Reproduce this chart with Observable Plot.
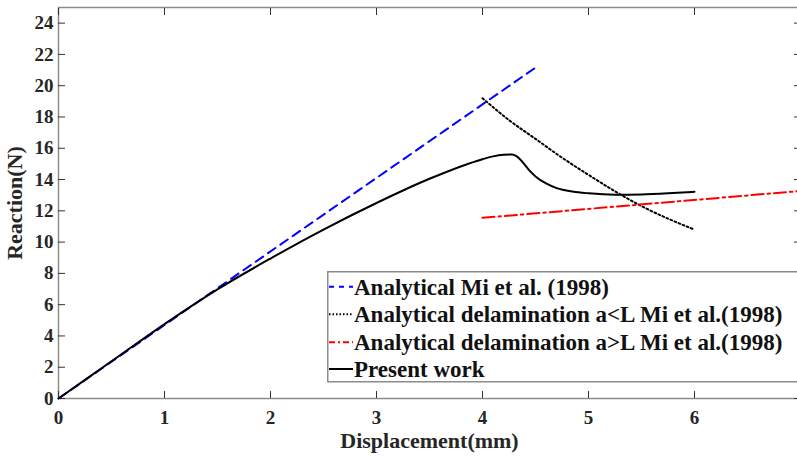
<!DOCTYPE html>
<html><head><meta charset="utf-8">
<script src="https://cdn.jsdelivr.net/npm/d3@7"></script>
<script src="https://cdn.jsdelivr.net/npm/@observablehq/plot@0.6"></script>
<style>
body{margin:0;background:#fff;}
#chart{position:relative;width:797px;height:457px;overflow:hidden;font-family:"Liberation Serif","Times New Roman",serif;}
#legend{position:absolute;left:327px;top:271px;}
</style></head><body><div id="chart"></div>
<script>
// ---- data ----
const xTicks = [0, 1, 2, 3, 4, 5, 6];
const yTicks = [0, 2, 4, 6, 8, 10, 12, 14, 16, 18, 20, 22, 24];

const seriesNames = [
  "Analytical Mi et al. (1998)",
  "Analytical delamination a<L Mi et al.(1998)",
  "Analytical delamination a>L Mi et al.(1998)",
  "Present work"
];

const analyticalX = [0, 4.52];
const analyticalY = [0, 21.25];

const delamLessX = [4.0, 4.25, 4.5, 4.75, 5.0, 5.25, 5.5, 5.75, 6.0];
const delamLessY = [19.2, 17.8, 16.6, 15.4, 14.3, 13.25, 12.3, 11.5, 10.8];

const delamGreaterX = [4.0, 7.0];
const delamGreaterY = [11.55, 13.27];

const presentX = [0, 0.5, 1, 1.5, 2, 2.5, 3, 3.5, 4, 4.1, 4.2, 4.28, 4.33, 4.38, 4.44, 4.5, 4.6, 4.7, 4.85, 5, 5.25, 5.5, 5.75, 6];
const presentY = [0, 2.38, 4.76, 6.98, 8.95, 10.8, 12.5, 14.05, 15.3, 15.48, 15.58, 15.6, 15.45, 15.1, 14.6, 14.2, 13.75, 13.45, 13.23, 13.12, 13.03, 13.05, 13.12, 13.22];

const toRows = (xs, ys) => xs.map((x, i) => ({x, y: ys[i]}));
const analytical = toRows(analyticalX, analyticalY);
const delamLess = toRows(delamLessX, delamLessY);
const delamGreater = toRows(delamGreaterX, delamGreaterY);
const present = toRows(presentX, presentY);

const axisGray = "#8c8c8c";
const tickColor = "#333";
const textColor = "#262626";

const plot = Plot.plot({
  width: 797,
  height: 457,
  marginLeft: 58,
  marginRight: -3,
  marginTop: 7,
  marginBottom: 59,
  x: {domain: [0, 7]},
  y: {domain: [0, 25]},
  style: {fontFamily: "'Liberation Serif','Times New Roman',serif", background: "white", color: textColor},
  marks: [
    Plot.frame({stroke: axisGray, strokeWidth: 1.5}),
    // tick labels
    Plot.axisX(xTicks, {tickSize: 0, tickPadding: 12, label: null, fontSize: 19, fontWeight: "bold", fill: textColor}),
    Plot.axisY(yTicks, {tickSize: 0, tickPadding: 5, label: null, fontSize: 19, fontWeight: "bold", fill: textColor}),
    // inward ticks (bottom/left) and mirrored ticks (top/right)
    Plot.axisX(xTicks, {tickSize: -7, fill: "none", label: null, stroke: tickColor}),
    Plot.axisX(xTicks, {anchor: "top", tickSize: -7, fill: "none", label: null, stroke: tickColor}),
    Plot.axisY(yTicks, {tickSize: -7, fill: "none", label: null, stroke: tickColor}),
    Plot.axisY(yTicks, {anchor: "right", tickSize: -7, fill: "none", label: null, stroke: tickColor}),
    // axis titles
    Plot.text(["Displacement(mm)"], {frameAnchor: "bottom", dy: 42, text: d => d, fontSize: 22, fontWeight: "bold", fill: textColor, lineAnchor: "middle", textAnchor: "middle"}),
    Plot.text(["Reaction(N)"], {frameAnchor: "left", dx: -44, rotate: -90, text: d => d, fontSize: 22, fontWeight: "bold", fill: textColor, lineAnchor: "middle", textAnchor: "middle"}),
    // series
    Plot.line(analytical, {x: "x", y: "y", stroke: "#0000ff", strokeWidth: 2, strokeDasharray: "9,6"}),
    Plot.line(delamLess, {x: "x", y: "y", stroke: "#000", strokeWidth: 2, strokeDasharray: "1.8,2.6", curve: "monotone-x"}),
    Plot.line(delamGreater, {x: "x", y: "y", stroke: "#ff0000", strokeWidth: 2, strokeDasharray: "12,4,2.5,4"}),
    Plot.line(present, {x: "x", y: "y", stroke: "#000", strokeWidth: 2, curve: "monotone-x"})
  ]
});
document.getElementById("chart").appendChild(plot);

// ---- legend (inside the axes, lower right) ----
const legendStyles = [
  {stroke: "#0000ff", dash: "5,5"},
  {stroke: "#000", dash: "1.5,2"},
  {stroke: "#ff0000", dash: "6,3,2,3"},
  {stroke: "#000", dash: null}
];
const rowY = [15.7, 43.3, 71.3, 98];
const lg = d3.select("#chart").append("svg")
  .attr("id", "legend").attr("width", 480).attr("height", 112);
lg.append("rect").attr("x", 0.75).attr("y", 0.75).attr("width", 520).attr("height", 110)
  .attr("fill", "white").attr("stroke", axisGray).attr("stroke-width", 1.5);
seriesNames.forEach((name, i) => {
  const s = legendStyles[i];
  lg.append("line").attr("x1", 2).attr("x2", 26).attr("y1", rowY[i]).attr("y2", rowY[i])
    .attr("stroke", s.stroke).attr("stroke-width", 2).attr("stroke-dasharray", s.dash);
  lg.append("text").attr("x", 27).attr("y", rowY[i]).attr("dy", "0.34em")
    .attr("font-family", "'Liberation Serif','Times New Roman',serif")
    .attr("font-weight", "bold").attr("font-size", 23).attr("fill", "#111").text(name);
});
</script></body></html>
